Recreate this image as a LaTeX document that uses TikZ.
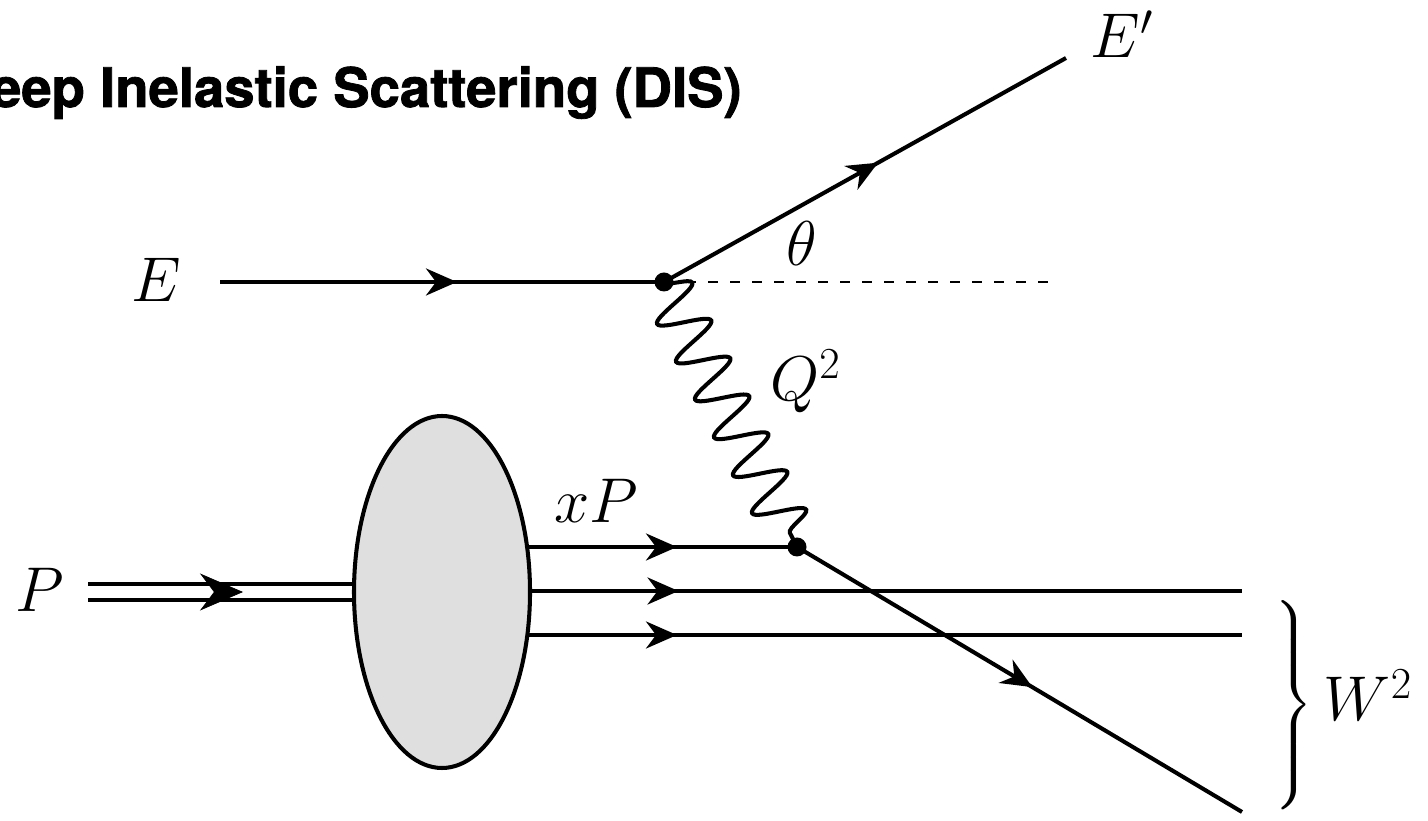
\RequirePackage{fix-cm}
\documentclass[tikz,border=0pt]{standalone}
\usepackage{exscale}
\usepackage{fontspec}
\newfontfamily\titlefont{TeX Gyre Heros}[BoldFeatures={FakeBold=1.5}]
\usepackage{tikz}
\usetikzlibrary{positioning,calc,arrows.meta,shapes.geometric,decorations.pathmorphing,decorations.markings}

\tikzset{
  plain/.style={line width=2.3pt},
  fermion/.style={plain, postaction={decorate},
    decoration={markings, mark=at position 0.5 with {\arrow[xshift=0.3cm]{Stealth[length=0.62cm,width=0.54cm]}}}},
  bigarrow/.style={decorate,
    decoration={markings, mark=at position 0.5 with {\arrow[xshift=0.43cm]{Stealth[length=0.86cm,width=0.74cm]}}}},
  photon/.style={plain, decorate, decoration={snake, amplitude=0.5cm, segment length=0.847cm}},
  vertexdot/.style={circle, fill=black, inner sep=0pt, minimum size=0.38cm},
  blob/.style={ellipse, draw, line width=2.3pt, fill=gray!25, minimum width=3.52cm, minimum height=7.04cm, inner sep=0pt},
  lbl/.style={font=\fontsize{36}{43}\selectfont, inner sep=0pt},
}

\begin{document}
\begin{tikzpicture}
\useasboundingbox (0,0) rectangle (28.56,16.4);

% vertices and line ends
\coordinate (ein) at (4.4,10.76);
\coordinate (v1) at (13.28,10.76);
\coordinate (eout) at (21.32,15.24);
\coordinate (horiz) at (21.2,10.76);
\coordinate (v2) at (15.94,5.46);
\coordinate (qout) at (24.84,0.16);
\coordinate (pin) at (1.76,4.56);
\coordinate (pout) at (7.1,4.56);
\coordinate (q1) at (10.54,5.46);
\coordinate (q2) at (10.6,4.58);
\coordinate (q2m) at (15.94,4.58);
\coordinate (q2e) at (24.84,4.58);
\coordinate (q3) at (10.54,3.70);
\coordinate (q3m) at (15.94,3.70);
\coordinate (q3e) at (24.84,3.70);

% electron
\draw[fermion] (ein) -- (v1);
\draw[fermion] (v1) -- (eout);
\draw[line width=1.3pt, dash pattern=on 0.2cm off 0.24cm] (v1) -- (horiz);
\draw[photon] (v1) -- (v2);

% proton
\draw[line width=2.3pt, double distance=0.24cm] (pin) -- (pout);
\path[bigarrow] (pin) -- (pout);
\draw[fermion] (q1) -- (v2);
\draw[fermion] (q2) -- (q2m);
\draw[plain] (q2m) -- (q2e);
\draw[fermion] (q3) -- (q3m);
\draw[plain] (q3m) -- (q3e);
\node[blob] (proton) at (8.84,4.56) {};
\draw[fermion] (v2) -- (qout);

\node[vertexdot] (dot1) at (v1) {};
\node[vertexdot] (dot2) at (v2) {};

% labels
\node[anchor=base east, inner sep=0pt, font={\fontsize{31}{37}\titlefont\bfseries}] (title) at (14.84,14.26) {Deep Inelastic Scattering (DIS)};
\node[lbl, anchor=base] (Elbl) at (3.12,10.36) {$E$};
\node[lbl, anchor=base] (Eplbl) at (22.44,15.24) {$E'$};
\node[lbl, anchor=base] (thetalbl) at (16.04,11.08) {$\theta$};
\node[lbl, anchor=base west] (Qlbl) at (15.4,8.38) {$Q^2$};
\node[lbl, anchor=base] (xPlbl) at (11.92,5.94) {$xP$};
\node[lbl, anchor=base] (Plbl) at (0.79,4.16) {$P$};
\node[lbl, anchor=west] (Wlbl) at (25.44,2.3) {$\left.\vrule height 2.5cm depth 1.86cm width 0pt\right\}W^2$};
\end{tikzpicture}
\end{document}
